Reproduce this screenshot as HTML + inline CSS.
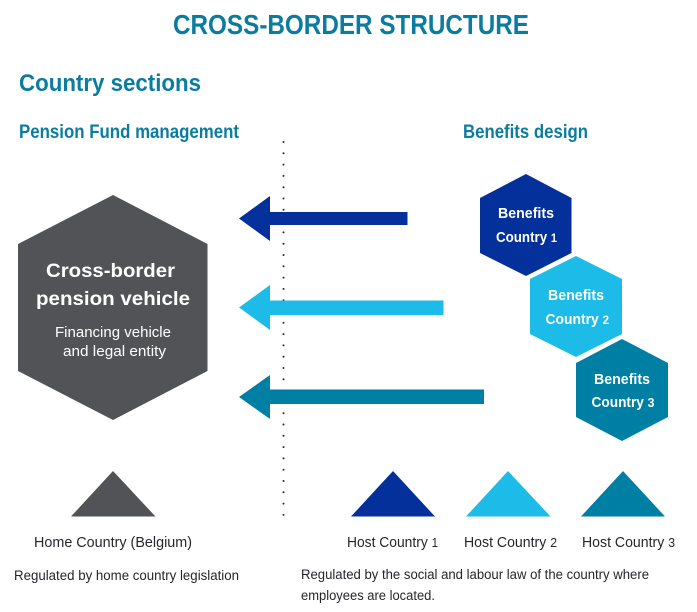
<!DOCTYPE html>
<html lang="en">
<head>
<meta charset="utf-8">
<title>Cross-border structure</title>
<style>
html,body{margin:0;padding:0;background:#fff;}
svg{display:block;}
text{font-family:"Liberation Sans",sans-serif;}
.h{fill:#0b7ca1;font-weight:bold;}
.w{fill:#fff;font-weight:bold;}
.d{fill:#25262b;}
</style>
</head>
<body>
<svg xmlns="http://www.w3.org/2000/svg" width="697" height="612" viewBox="0 0 697 612">
<rect width="697" height="612" fill="#fff"/>

<text class="h" x="173" y="34" font-size="28" textLength="356" lengthAdjust="spacingAndGlyphs">CROSS-BORDER STRUCTURE</text>
<text class="h" x="19" y="91" font-size="24" textLength="182" lengthAdjust="spacingAndGlyphs">Country sections</text>
<text class="h" x="19" y="138" font-size="19" textLength="220" lengthAdjust="spacingAndGlyphs">Pension Fund management</text>
<text class="h" x="463" y="138" font-size="19" textLength="125" lengthAdjust="spacingAndGlyphs">Benefits design</text>

<line x1="283.5" y1="142" x2="283.5" y2="518" stroke="#25262b" stroke-width="2" stroke-linecap="round" stroke-dasharray="0 11.3"/>

<polygon points="113,195 207.500,244 207.500,371 113,420 18,371 18,244" fill="#525357"/>
<text class="w" x="46" y="277" font-size="19" textLength="129" lengthAdjust="spacingAndGlyphs">Cross-border</text>
<text class="w" x="36" y="305" font-size="19" textLength="154" lengthAdjust="spacingAndGlyphs">pension vehicle</text>
<text x="55" y="337" font-size="15" fill="#fff" textLength="116" lengthAdjust="spacingAndGlyphs">Financing vehicle</text>
<text x="63" y="356" font-size="15" fill="#fff" textLength="103" lengthAdjust="spacingAndGlyphs">and legal entity</text>

<polygon points="239,218.500 270,196 270,212 407.500,212 407.500,225 270,225 270,241" fill="#03309a"/>
<polygon points="239,307.500 270,285 270,300.500 443.500,300.500 443.500,315 270,315 270,330" fill="#1dbbe8"/>
<polygon points="239,397 270,375 270,389.500 484,389.500 484,404 270,404 270,419" fill="#007fa5"/>

<polygon points="526,174 571.500,198 571.500,253 526,276 480,253 480,198" fill="#03309a"/>
<polygon points="576,256 622,279 622,334 576,357 530,334 530,279" fill="#1dbbe8"/>
<polygon points="622,339 668,363 668,417 622,441 576,417 576,363" fill="#007fa5"/>

<text class="w" x="498" y="218" font-size="14.500" textLength="56" lengthAdjust="spacingAndGlyphs">Benefits</text>
<text class="w" x="496" y="242" font-size="14.500" textLength="61" lengthAdjust="spacingAndGlyphs">Country <tspan font-size="12">1</tspan></text>
<text class="w" x="548" y="300" font-size="14.500" textLength="56" lengthAdjust="spacingAndGlyphs">Benefits</text>
<text class="w" x="545.500" y="324" font-size="14.500" textLength="63.500" lengthAdjust="spacingAndGlyphs">Country <tspan font-size="12">2</tspan></text>
<text class="w" x="594" y="384" font-size="14.500" textLength="56" lengthAdjust="spacingAndGlyphs">Benefits</text>
<text class="w" x="591.500" y="407" font-size="14.500" textLength="63" lengthAdjust="spacingAndGlyphs">Country <tspan font-size="13">3</tspan></text>

<polygon points="113,471 155.500,516.500 71,516.500" fill="#525357"/>
<polygon points="393,471 435,516.500 351,516.500" fill="#03309a"/>
<polygon points="508,471 550.500,516.500 466,516.500" fill="#1dbbe8"/>
<polygon points="623,471 665,516.500 581,516.500" fill="#007fa5"/>

<text class="d" x="34" y="547" font-size="15" textLength="158" lengthAdjust="spacingAndGlyphs">Home Country (Belgium)</text>
<text class="d" x="347" y="547" font-size="15" textLength="91" lengthAdjust="spacingAndGlyphs">Host Country <tspan font-size="12.500">1</tspan></text>
<text class="d" x="464" y="547" font-size="15" textLength="93" lengthAdjust="spacingAndGlyphs">Host Country <tspan font-size="13">2</tspan></text>
<text class="d" x="582" y="547" font-size="15" textLength="93" lengthAdjust="spacingAndGlyphs">Host Country <tspan font-size="13">3</tspan></text>

<text class="d" x="14" y="580" font-size="13.500" textLength="225" lengthAdjust="spacingAndGlyphs">Regulated by home country legislation</text>
<text class="d" x="301" y="579" font-size="13.500" textLength="348" lengthAdjust="spacingAndGlyphs">Regulated by the social and labour law of the country where</text>
<text class="d" x="301" y="600" font-size="13.500" textLength="134" lengthAdjust="spacingAndGlyphs">employees are located.</text>
</svg>
</body>
</html>
